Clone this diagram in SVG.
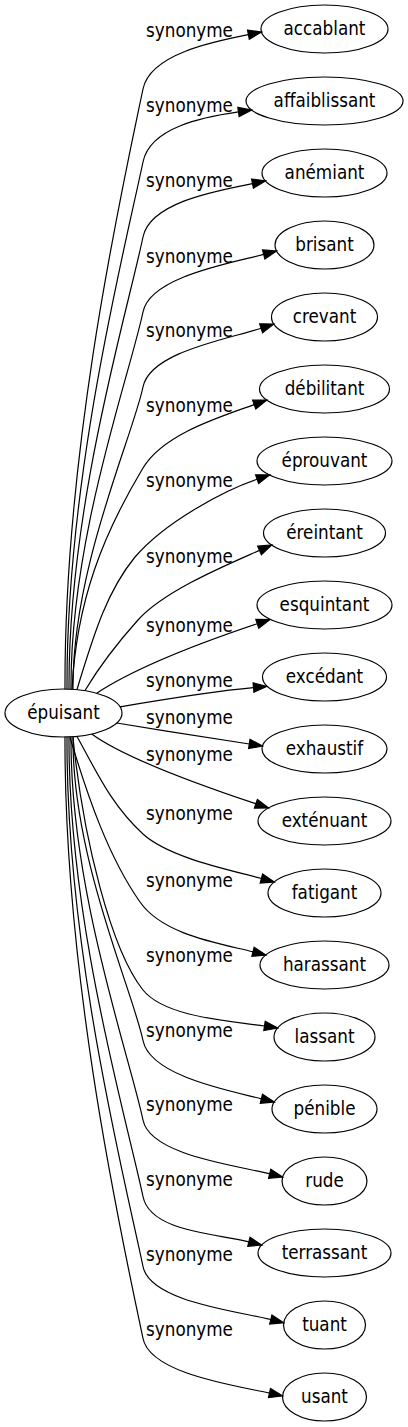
<svg xmlns="http://www.w3.org/2000/svg" width="408" height="1427" viewBox="0 0 408 1427">
<style>
text{font-family:"DejaVu Sans Condensed","DejaVu Sans",sans-serif;font-stretch:condensed;font-size:18.67px;fill:#000;text-anchor:middle}
ellipse{fill:none;stroke:#000;stroke-width:1.2}
.e path{fill:none;stroke:#000;stroke-width:1.2}
</style>
<defs>
<marker id="ah" markerUnits="userSpaceOnUse" markerWidth="15" markerHeight="11" refX="0" refY="5" orient="auto" overflow="visible">
<path d="M0,0.33 L13.33,5 L0,9.67 z" fill="#000" stroke="#000" stroke-width="1.2"/>
</marker>
</defs>
<rect width="408" height="1427" fill="#fff"/>
<g id="edges" class="e">
<path marker-end="url(#ah)" d="M65,689.5 C64,449.3 122,189.3 143,89 C150,54 214.1,41.3 248.4,34.6"/>
<text x="189.5" y="37">synonyme</text>
<path marker-end="url(#ah)" d="M67,689.5 C66,478.5 124.5,250.1 143,162 C150,127 203.9,116.9 238.5,111.9"/>
<text x="189.5" y="112">synonyme</text>
<path marker-end="url(#ah)" d="M69,689.5 C68,508.5 127.2,312.6 143,237 C150,202 218.2,190.5 252.5,183.6"/>
<text x="189.5" y="187">synonyme</text>
<path marker-end="url(#ah)" d="M71,689.5 C70,538.5 129.8,375 143,312 C150,277 229.9,263.3 263.7,254.4"/>
<text x="189.5" y="262.5">synonyme</text>
<path marker-end="url(#ah)" d="M73,689.5 C72,568.5 132.4,437.5 143,387 C150,352 227.8,339.1 261.1,328.2"/>
<text x="189.5" y="337">synonyme</text>
<path marker-end="url(#ah)" d="M72,689.5 C76.4,600.9 103.1,534.5 143,468 C163.6,433.7 221.3,416.6 254.2,404.6"/>
<text x="189.5" y="412">synonyme</text>
<path marker-end="url(#ah)" d="M77,689.5 C95,630 108,590 135,557 C165,522 223.9,490.4 257.1,479.2"/>
<text x="189.5" y="487">synonyme</text>
<path marker-end="url(#ah)" d="M85,690.5 C100,665.5 118.2,642 138,620 C164.8,590.4 227.5,564.6 259.5,550.4"/>
<text x="189.5" y="562.5">synonyme</text>
<path marker-end="url(#ah)" d="M96.7,693.3 C135,668 200,643 257.3,623.8"/>
<text x="189.5" y="631.7">synonyme</text>
<path marker-end="url(#ah)" d="M120,706.8 C160,700 215,691 253.5,687.6"/>
<text x="189.5" y="686.7">synonyme</text>
<path marker-end="url(#ah)" d="M116.7,723 C160,730 214.7,738.8 249.3,744"/>
<text x="189.5" y="724">synonyme</text>
<path marker-end="url(#ah)" d="M91.7,734 C130,762 222.7,792.7 255.9,803.8"/>
<text x="189.5" y="761">synonyme</text>
<path marker-end="url(#ah)" d="M77,736.5 C96,770.5 111.1,805 143,834 C168.9,857.5 227.6,869.4 261.4,878.5"/>
<text x="189.5" y="820">synonyme</text>
<path marker-end="url(#ah)" d="M70,737.5 C88,797.5 108.5,857 140,902 C162.9,934.8 219,943.3 253,951.8"/>
<text x="189.5" y="886.5">synonyme</text>
<path marker-end="url(#ah)" d="M73,737.5 C83.1,838.5 111,950 143,990 C164.9,1017.3 229.9,1020.8 264.5,1026"/>
<text x="189.5" y="961.5">synonyme</text>
<path marker-end="url(#ah)" d="M73,736.5 C72,858.1 132.4,989.7 143,1040.5 C150,1075.5 227.4,1090.3 261.4,1098.8"/>
<text x="189.5" y="1036.5">synonyme</text>
<path marker-end="url(#ah)" d="M71,736.5 C70,889.9 129.6,1056 143,1120 C150,1155 235.7,1165.3 269.7,1173.8"/>
<text x="189.5" y="1111">synonyme</text>
<path marker-end="url(#ah)" d="M69,736.5 C68,920.5 126.9,1119.7 143,1196.5 C150,1231.5 214.9,1233.3 248.9,1241.8"/>
<text x="189.5" y="1185.5">synonyme</text>
<path marker-end="url(#ah)" d="M67,736.5 C66,948.5 124.5,1178 143,1266.5 C150,1301.5 236.8,1311 270.8,1319.5"/>
<text x="189.5" y="1260.5">synonyme</text>
<path marker-end="url(#ah)" d="M65,736.5 C64,977.3 121.9,1238 143,1338.5 C150,1373.5 235.3,1385.6 269.5,1393.1"/>
<text x="189.5" y="1335.5">synonyme</text>
</g>
<g id="node-epuisant"><ellipse cx="63.5" cy="713" rx="58.5" ry="24"/><text x="63.5" y="718.6">épuisant</text></g>
<g id="node-accablant"><ellipse cx="324.5" cy="29" rx="63.5" ry="24"/><text x="324.5" y="34.6">accablant</text></g>
<g id="node-affaiblissant"><ellipse cx="324.5" cy="101" rx="78.5" ry="24"/><text x="324.5" y="106.6">affaiblissant</text></g>
<g id="node-anemiant"><ellipse cx="324.5" cy="173" rx="62.5" ry="24"/><text x="324.5" y="178.6">anémiant</text></g>
<g id="node-brisant"><ellipse cx="324.5" cy="245" rx="49.5" ry="24"/><text x="324.5" y="250.6">brisant</text></g>
<g id="node-crevant"><ellipse cx="324.5" cy="317" rx="53" ry="24"/><text x="324.5" y="322.6">crevant</text></g>
<g id="node-debilitant"><ellipse cx="324.5" cy="389" rx="65" ry="24"/><text x="324.5" y="394.6">débilitant</text></g>
<g id="node-eprouvant"><ellipse cx="324.5" cy="461" rx="67.5" ry="24"/><text x="324.5" y="466.6">éprouvant</text></g>
<g id="node-ereintant"><ellipse cx="324.5" cy="533" rx="61" ry="24"/><text x="324.5" y="538.6">éreintant</text></g>
<g id="node-esquintant"><ellipse cx="324.5" cy="605" rx="67.5" ry="24"/><text x="324.5" y="610.6">esquintant</text></g>
<g id="node-excedant"><ellipse cx="324.5" cy="677" rx="62" ry="24"/><text x="324.5" y="682.6">excédant</text></g>
<g id="node-exhaustif"><ellipse cx="324.5" cy="749" rx="62.5" ry="24"/><text x="324.5" y="754.6">exhaustif</text></g>
<g id="node-extenuant"><ellipse cx="324.5" cy="821" rx="66.5" ry="24"/><text x="324.5" y="826.6">exténuant</text></g>
<g id="node-fatigant"><ellipse cx="324.5" cy="893" rx="56.5" ry="24"/><text x="324.5" y="898.6">fatigant</text></g>
<g id="node-harassant"><ellipse cx="324.5" cy="965" rx="64.5" ry="24"/><text x="324.5" y="970.6">harassant</text></g>
<g id="node-lassant"><ellipse cx="324.5" cy="1037" rx="50.5" ry="24"/><text x="324.5" y="1042.6">lassant</text></g>
<g id="node-penible"><ellipse cx="324.5" cy="1109" rx="52.5" ry="24"/><text x="324.5" y="1114.6">pénible</text></g>
<g id="node-rude"><ellipse cx="324.5" cy="1181" rx="42.5" ry="24"/><text x="324.5" y="1186.6">rude</text></g>
<g id="node-terrassant"><ellipse cx="324.5" cy="1253" rx="66.5" ry="24"/><text x="324.5" y="1258.6">terrassant</text></g>
<g id="node-tuant"><ellipse cx="324.5" cy="1325" rx="41" ry="24"/><text x="324.5" y="1330.6">tuant</text></g>
<g id="node-usant"><ellipse cx="324.5" cy="1397" rx="42" ry="24"/><text x="324.5" y="1402.6">usant</text></g>
</svg>
